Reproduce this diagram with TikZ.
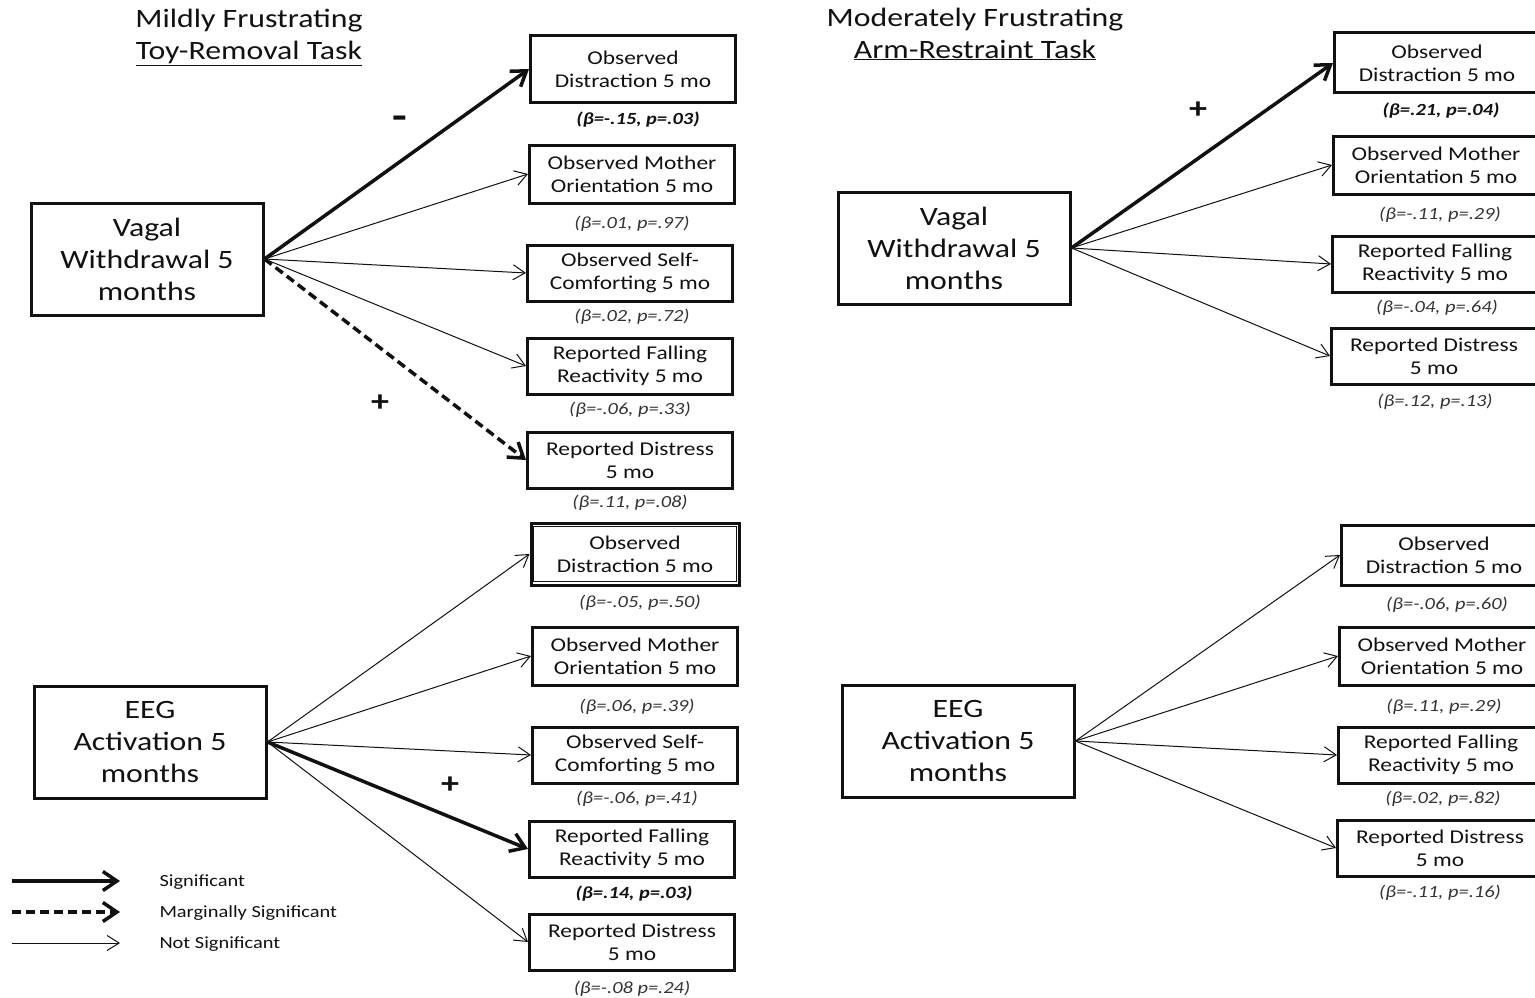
\documentclass[tikz,border=0pt]{standalone}
\usepackage{fontspec}
\setmainfont{Carlito}[FakeStretch=1.2]
\usetikzlibrary{arrows.meta,calc}
\definecolor{ink}{HTML}{111111}
\definecolor{inksoft}{HTML}{333333}

\begin{document}
\begin{tikzpicture}[x=1pt, y=-1pt,
  src/.style={draw=ink, line width=3pt, align=center, minimum width=232pt,
    minimum height=112pt, inner sep=0pt, text=ink, font=\fontsize{26.5}{32}\selectfont},
  box/.style={draw=ink, line width=3pt, align=center, minimum width=205pt,
    minimum height=56pt, inner sep=0pt, text=ink, font=\fontsize{19.5}{23}\selectfont},
  stat/.style={text=inksoft, font=\fontsize{17}{20}\selectfont\itshape},
  sigstat/.style={stat, text=ink, font=\fontsize{17}{20}\selectfont\bfseries\itshape},
  sign/.style={text=ink, font=\fontsize{30}{30}\selectfont\bfseries},
  title/.style={align=center, text=ink, font=\fontsize{26.5}{32}\selectfont},
  key/.style={anchor=west, text=ink, font=\fontsize{17}{20}\selectfont},
  ns/.style={-{Straight Barb[length=12pt,width=15pt]}, draw=ink, line width=1pt},
  sig/.style={-{Straight Barb[length=14pt,width=19pt]}, draw=ink, line width=3.5pt},
  marg/.style={sig, dash pattern=on 9pt off 5pt}
]
\useasboundingbox (0,0) rectangle (1535,998);

% titles
\node[title] (titleA) at (249,37) {Mildly Frustrating\\\underline{Toy-Removal Task}};
\node[title] (titleB) at (975,34) {Moderately Frustrating\\\underline{Arm-Restraint Task}};

% toy removal, vagal
\node[src] (vagalA) at (147,259) {Vagal\\Withdrawal 5\\months};
\node[box, minimum height=67pt] (od1) at (633,69) {Observed\\Distraction 5 mo};
\node[box, minimum height=58pt] (omo1) at (632,174) {Observed Mother\\Orientation 5 mo};
\node[box] (osc1) at (630,273) {Observed Self-\\Comforting 5 mo};
\node[box] (rfr1) at (630,366) {Reported Falling\\Reactivity 5 mo};
\node[box] (rd1) at (630,460) {Reported Distress\\5 mo};
\node[sigstat] (st1) at (638,120) {(β=-.15, p=.03)};
\node[stat] (st2) at (632,224) {(β=.01, p=.97)};
\node[stat] (st3) at (632,317) {(β=.02, p=.72)};
\node[stat] (st4) at (630,410) {(β=-.06, p=.33)};
\node[stat] (st5) at (630,503) {(β=.11, p=.08)};

\draw[sig] (vagalA.east) -- (od1.west);
\draw[ns] (vagalA.east) -- (omo1.west);
\draw[ns] (vagalA.east) -- (osc1.west);
\draw[ns] (vagalA.east) -- (rfr1.west);
\draw[marg] (vagalA.east) -- (rd1.west);
\node[sign, font=\fontsize{40}{40}\selectfont\bfseries] (minusA) at (400,123) {-};
\node[sign] (plusA) at (380,403) {+};

% toy removal, eeg
\node[src] (eegA) at (150,742) {EEG\\Activation 5\\months};
\node[box, minimum width=208pt, minimum height=62pt] (od2) at (635,554) {Observed\\Distraction 5 mo};
\draw[line width=1pt, draw=ink] ($(od2.north west)+(4,5)$) rectangle ($(od2.south east)+(-4,-5)$);
\node[box, minimum height=58pt] (omo2) at (635,656) {Observed Mother\\Orientation 5 mo};
\node[box] (osc2) at (635,755) {Observed Self-\\Comforting 5 mo};
\node[box] (rfr2) at (632,849) {Reported Falling\\Reactivity 5 mo};
\node[box] (rd2) at (632,942) {Reported Distress\\5 mo};
\node[stat] (st6) at (640,603) {(β=-.05, p=.50)};
\node[stat] (st7) at (637,707) {(β=.06, p=.39)};
\node[stat] (st8) at (637,799) {(β=-.06, p=.41)};
\node[sigstat] (st9) at (634,894) {(β=.14, p=.03)};
\node[stat] (st10) at (632,989) {(β=-.08 p=.24)};

\draw[ns] (eegA.east) -- (od2.west);
\draw[ns] (eegA.east) -- (omo2.west);
\draw[ns] (eegA.east) -- (osc2.west);
\draw[sig] (eegA.east) -- (rfr2.west);
\draw[ns] (eegA.east) -- (rd2.west);
\node[sign] (plusB) at (450,785) {+};

% arm restraint, vagal
\node[src] (vagalB) at (954,248) {Vagal\\Withdrawal 5\\months};
\node[box, minimum height=60pt] (od3) at (1437,63) {Observed\\Distraction 5 mo};
\node[box, minimum height=58pt] (omo3) at (1436,165) {Observed Mother\\Orientation 5 mo};
\node[box] (rfr3) at (1435,264) {Reported Falling\\Reactivity 5 mo};
\node[box] (rd3) at (1434,356) {Reported Distress\\5 mo};
\node[sigstat] (st11) at (1441,111) {(β=.21, p=.04)};
\node[stat] (st12) at (1440,215) {(β=-.11, p=.29)};
\node[stat] (st13) at (1437,308) {(β=-.04, p=.64)};
\node[stat] (st14) at (1435,402) {(β=.12, p=.13)};

\draw[sig] (vagalB.east) -- (od3.west);
\draw[ns] (vagalB.east) -- (omo3.west);
\draw[ns] (vagalB.east) -- (rfr3.west);
\draw[ns] (vagalB.east) -- (rd3.west);
\node[sign] (plusC) at (1198,110) {+};

% arm restraint, eeg
\node[src] (eegB) at (958,741) {EEG\\Activation 5\\months};
\node[box, minimum height=60pt] (od4) at (1444,555) {Observed\\Distraction 5 mo};
\node[box, minimum height=58pt] (omo4) at (1442,656) {Observed Mother\\Orientation 5 mo};
\node[box] (rfr4) at (1441,755) {Reported Falling\\Reactivity 5 mo};
\node[box] (rd4) at (1440,848) {Reported Distress\\5 mo};
\node[stat] (st15) at (1447,605) {(β=-.06, p=.60)};
\node[stat] (st16) at (1444,707) {(β=.11, p=.29)};
\node[stat] (st17) at (1443,799) {(β=.02, p=.82)};
\node[stat] (st18) at (1440,893) {(β=-.11, p=.16)};

\draw[ns] (eegB.east) -- (od4.west);
\draw[ns] (eegB.east) -- (omo4.west);
\draw[ns] (eegB.east) -- (rfr4.west);
\draw[ns] (eegB.east) -- (rd4.west);

% legend
\coordinate (keyA1) at (12,881);
\coordinate (keyA2) at (120,881);
\coordinate (keyB1) at (12,912);
\coordinate (keyB2) at (120,912);
\coordinate (keyC1) at (12,943);
\coordinate (keyC2) at (120,943);
\draw[sig] (keyA1) -- (keyA2);
\draw[marg] (keyB1) -- (keyB2);
\draw[ns] (keyC1) -- (keyC2);
\node[key] (keyA) at (156,882) {Significant};
\node[key] (keyB) at (156,913) {Marginally Significant};
\node[key] (keyC) at (156,944) {Not Significant};
\end{tikzpicture}
\end{document}
